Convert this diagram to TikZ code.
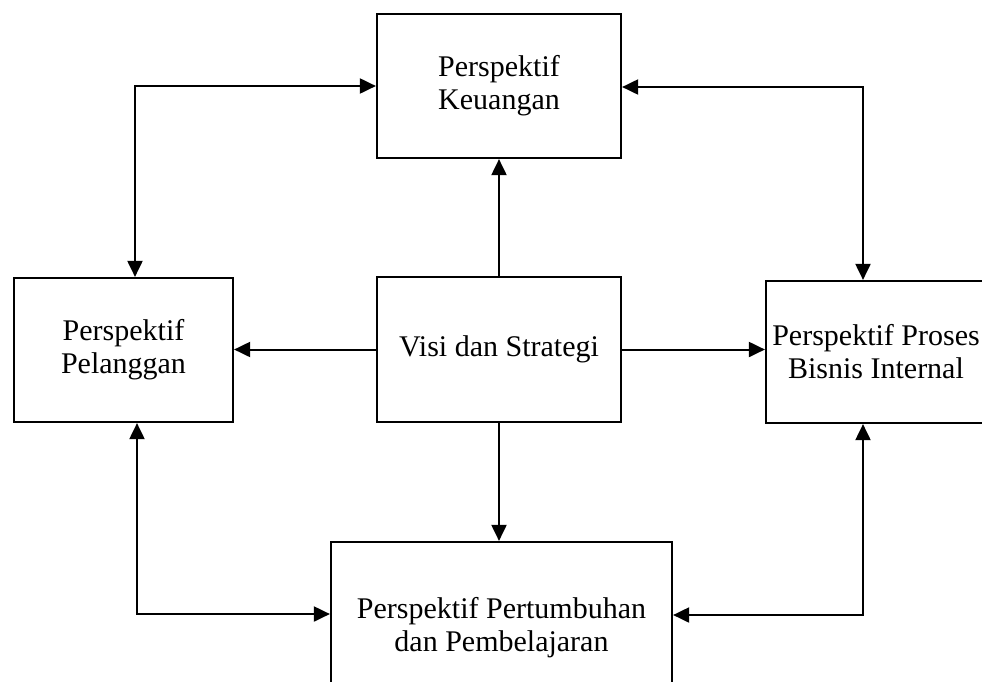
\documentclass[tikz,border=0pt]{standalone}
\usepackage{fontspec}
\setmainfont{Liberation Serif}
\usetikzlibrary{arrows.meta}
\begin{document}
\begin{tikzpicture}[x=1pt,y=-1pt,
  box/.style={draw, line width=2.2pt, inner sep=0pt, align=center,
    font=\fontsize{30}{33}\selectfont},
  link/.style={line width=2pt, -{Triangle[length=16pt,width=15pt]}},
  dlink/.style={line width=2pt, {Triangle[length=16pt,width=15pt]}-{Triangle[length=16pt,width=15pt]}}]
\useasboundingbox (0,0) rectangle (982,681);
\clip (0,0) rectangle (982,681);
\fill[white] (0,0) rectangle (982,681);

% perspectives
\node[box, minimum width=244pt, minimum height=144pt] (keu) at (499,86) {Perspektif\\Keuangan};
\node[box, minimum width=244pt, minimum height=145pt] (visi) at (499,349.5) {Visi dan Strategi};
\node[box, minimum width=219pt, minimum height=144pt] (pel) at (123.5,350) {Perspektif\\Pelanggan};
\node[box, minimum width=220pt, minimum height=142pt] (pro) at (876,352) {Perspektif Proses\\Bisnis Internal};
\node[box, minimum width=341pt, minimum height=172pt] (pem) at (501.5,628) {Perspektif Pertumbuhan\\dan Pembelajaran};

% bends of the outer loop
\coordinate (tl) at (135,86);
\coordinate (tr) at (863,87);
\coordinate (bl) at (137,614);
\coordinate (br) at (863,615);

% from the vision outwards
\draw[link] (visi.north) -- (keu.south);
\draw[link] (visi.west) -- (visi.west -| pel.east);
\draw[link] (visi.east) -- (visi.east -| pro.west);
\draw[link] (visi.south) -- (visi.south |- pem.north);

% links between neighbouring perspectives
\draw[dlink] (pel.north -| tl) -- (tl) -- (keu.west |- tl);
\draw[dlink] (keu.east |- tr) -- (tr) -- (pro.north -| tr);
\draw[dlink] (pel.south -| bl) -- (bl) -- (pem.west |- bl);
\draw[dlink] (pro.south -| br) -- (br) -- (pem.east |- br);
\end{tikzpicture}
\end{document}
